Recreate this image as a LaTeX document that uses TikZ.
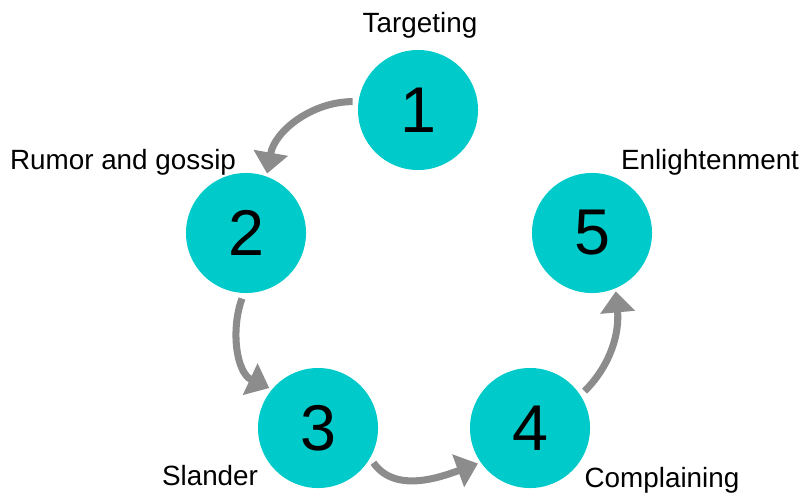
\documentclass[tikz,border=0pt]{standalone}
\usepackage{fontspec}
\setmainfont{Liberation Sans}
\usetikzlibrary{arrows.meta}
\definecolor{stagecol}{RGB}{0,202,202}
\definecolor{arrowcol}{RGB}{140,140,140}
\begin{document}
\begin{tikzpicture}[x=0.025cm,y=0.025cm]
\useasboundingbox (0,0) rectangle (800,495);
\tikzstyle{stage}=[fill=stagecol,shape=circle,minimum size=3cm,inner sep=0pt,font=\fontsize{46}{46}\selectfont]
\tikzstyle{caption}=[font=\fontsize{19.8}{21}\selectfont]
\tikzstyle{flow}=[draw=arrowcol,line width=5pt,-{Triangle[width=24pt,length=15pt]},shorten <=4pt,shorten >=2pt];

\draw (418,385) node[stage] (one) {1};
\draw (246,262) node[stage] (two) {2};
\draw (318,67) node[stage] (three) {3};
\draw (530,67) node[stage] (four) {4};
\draw (592,262) node[stage] (five) {5};

\draw (420,470) node[caption] (tone) {Targeting};
\draw (123,333) node[caption] (ttwo) {Rumor and gossip};
\draw (210,19) node[caption] (tthree) {Slander};
\draw (662,15) node[caption] (tfour) {Complaining};
\draw (710,333) node[caption] (tfive) {Enlightenment};

\draw[flow] (one.172) to[out=180,in=80] (two.70);
\draw[flow] (two.-92) to[out=-110,in=155] (three.140);
\draw[flow] (three.-30) to[out=-55,in=200] (four.215);
\draw[flow] (four.33) to[out=45,in=-85] (five.-67);
\end{tikzpicture}
\end{document}
